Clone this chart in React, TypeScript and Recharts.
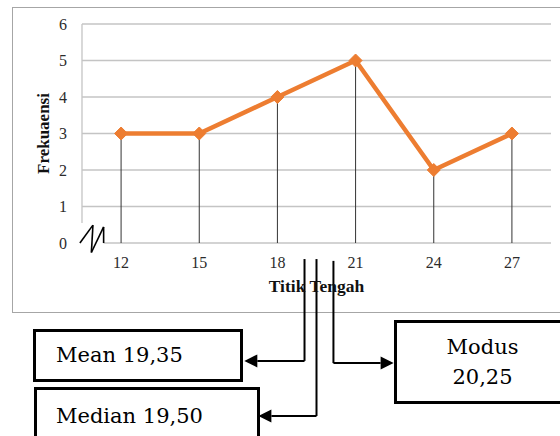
import { LineChart, Line, XAxis, YAxis, ReferenceLine } from "recharts";

// Titik tengah (midpoints) and their frequencies
const midpoints = [12, 15, 18, 21, 24, 27];
const frequencies = [3, 3, 4, 5, 2, 3];
const xTicks = [12, 15, 18, 21, 24, 27];
const yTicks = [0, 1, 2, 3, 4, 5, 6];
const gridValues = [1, 2, 3, 4, 5, 6];

// statistic boxes
const statNames = ["Mean", "Median", "Modus"];
const statValues = ["19,35", "19,50", "20,25"];

const data = midpoints.map((x, i) => ({ x, freq: frequencies[i] }));

// where the pointer lines sit, in chart units
const pointers = [
  { x: 19.04, top: -0.44, bottom: -3.23, tip: 16.73 },
  { x: 19.5, top: -0.44, bottom: -4.74, tip: 17.27 },
  { x: 20.15, top: -0.49, bottom: -3.29, tip: 22.46 },
];

// axis break zig-zag, in chart units
const breakPath = [
  { x: 10.42, y: 0 },
  { x: 10.92, y: 0.49 },
  { x: 10.86, y: -0.26 },
  { x: 11.33, y: 0.44 },
  { x: 11.33, y: 0 },
];

const ORANGE = "#ED7D31";
const GRID = "#c4c4c4";
const serif = "'Liberation Serif', 'Times New Roman', serif";

function Diamond(props: any) {
  const { cx, cy, index } = props;
  if (cx == null || cy == null) return <g key={index} />;
  const r = 6.5;
  return (
    <polygon
      key={index}
      points={`${cx},${cy - r} ${cx + r},${cy} ${cx},${cy + r} ${cx - r},${cy}`}
      fill={ORANGE}
      stroke={ORANGE}
      strokeWidth={1}
    />
  );
}

const arrowShape = (p: any) => {
  const { x1, y1, x2, y2 } = p;
  const dir = x2 > x1 ? 1 : -1;
  const len = 13;
  const half = 6.5;
  return (
    <g>
      <line x1={x1} y1={y1} x2={x2 - dir * len} y2={y2} stroke="#000" strokeWidth={2} />
      <polygon
        points={`${x2},${y2} ${x2 - dir * len},${y2 - half} ${x2 - dir * len},${y2 + half}`}
        fill="#000"
      />
    </g>
  );
};

const boxText: React.CSSProperties = {
  position: "absolute",
  boxSizing: "border-box",
  border: "3px solid #000",
  background: "#fff",
  fontFamily: "'DejaVu Serif', serif",
  fontSize: 21,
  color: "#000",
};

export default function App() {
  return (
    <div style={{ position: "relative", width: 560, height: 436, overflow: "hidden", background: "#fff" }}>
      <style>{"body{margin:0}"}</style>
      {/* chart frame */}
      <div
        style={{
          position: "absolute",
          left: 12,
          top: 7,
          width: 600,
          height: 306,
          border: "1px solid #a6a6a6",
          boxSizing: "border-box",
        }}
      />
      <div style={{ position: "absolute", left: 0, top: 0 }}>
        <LineChart
          width={560}
          height={436}
          data={data}
          margin={{ top: 24, right: 9, left: 42, bottom: 139 }}
          style={{ fontFamily: serif }}
        >
          <XAxis
            dataKey="x"
            type="number"
            domain={[10.5, 28.5]}
            ticks={xTicks}
            axisLine={false}
            tickLine={false}
            tickSize={0}
            tickMargin={14}
            height={54}
            tick={{ fill: "#2b2b2b", fontSize: 16, fontFamily: serif }}
            label={{
              value: "Titik Tengah",
              position: "insideBottom",
              offset: 5,
              style: { fontWeight: "bold", fontSize: 17.5, fill: "#111", fontFamily: serif },
            }}
          />
          <YAxis
            domain={[0, 6]}
            ticks={yTicks}
            axisLine={false}
            tickLine={false}
            tickSize={0}
            tickMargin={15}
            width={40}
            tick={{ fill: "#2b2b2b", fontSize: 16, fontFamily: serif }}
            label={{
              value: "Frekuaensi",
              angle: -90,
              position: "insideLeft",
              offset: 1,
              style: { textAnchor: "middle", fontWeight: "bold", fontSize: 17, fill: "#111", fontFamily: serif },
            }}
          />
          {gridValues.map((v) => (
            <ReferenceLine key={`g${v}`} y={v} stroke={GRID} strokeWidth={1.3} ifOverflow="visible" />
          ))}
          <ReferenceLine
            segment={[{ x: 11.33, y: 0 }, { x: 28.5, y: 0 }]}
            stroke={GRID}
            strokeWidth={1.3}
            ifOverflow="visible"
          />
          <ReferenceLine
            segment={[{ x: 10.5, y: 0.55 }, { x: 10.5, y: 6 }]}
            stroke={GRID}
            strokeWidth={1.3}
            ifOverflow="visible"
          />
          {breakPath.slice(1).map((pt, i) => (
            <ReferenceLine
              key={`b${i}`}
              segment={[breakPath[i], pt]}
              stroke="#000"
              strokeWidth={1.6}
              ifOverflow="visible"
            />
          ))}
          {midpoints.map((x, i) => (
            <ReferenceLine
              key={`d${x}`}
              segment={[{ x, y: 0 }, { x, y: frequencies[i] }]}
              stroke="#333"
              strokeWidth={1}
              ifOverflow="visible"
            />
          ))}
          {pointers.map((p, i) => (
            <ReferenceLine
              key={`pv${i}`}
              segment={[{ x: p.x, y: p.top }, { x: p.x, y: p.bottom }]}
              stroke="#000"
              strokeWidth={2}
              ifOverflow="visible"
            />
          ))}
          {pointers.map((p, i) => (
            <ReferenceLine
              key={`ph${i}`}
              segment={[{ x: p.x, y: p.bottom }, { x: p.tip, y: p.bottom }]}
              ifOverflow="visible"
              shape={arrowShape}
            />
          ))}
          <Line
            type="linear"
            dataKey="freq"
            stroke={ORANGE}
            strokeWidth={4.5}
            dot={Diamond}
            activeDot={false}
            isAnimationActive={false}
          />
        </LineChart>
      </div>
      <div style={{ ...boxText, left: 33, top: 329, width: 210, height: 53, paddingLeft: 20, lineHeight: "46px" }}>
        {statNames[0]} {statValues[0]}
      </div>
      <div style={{ ...boxText, left: 34, top: 387, width: 226, height: 70, paddingLeft: 19, lineHeight: "53px" }}>
        {statNames[1]} {statValues[1]}
      </div>
      <div
        style={{
          ...boxText,
          left: 394,
          top: 320,
          width: 177,
          height: 84,
          textAlign: "center",
          lineHeight: "30px",
          paddingTop: 9,
        }}
      >
        {statNames[2]}
        <br />
        {statValues[2]}
      </div>
    </div>
  );
}
